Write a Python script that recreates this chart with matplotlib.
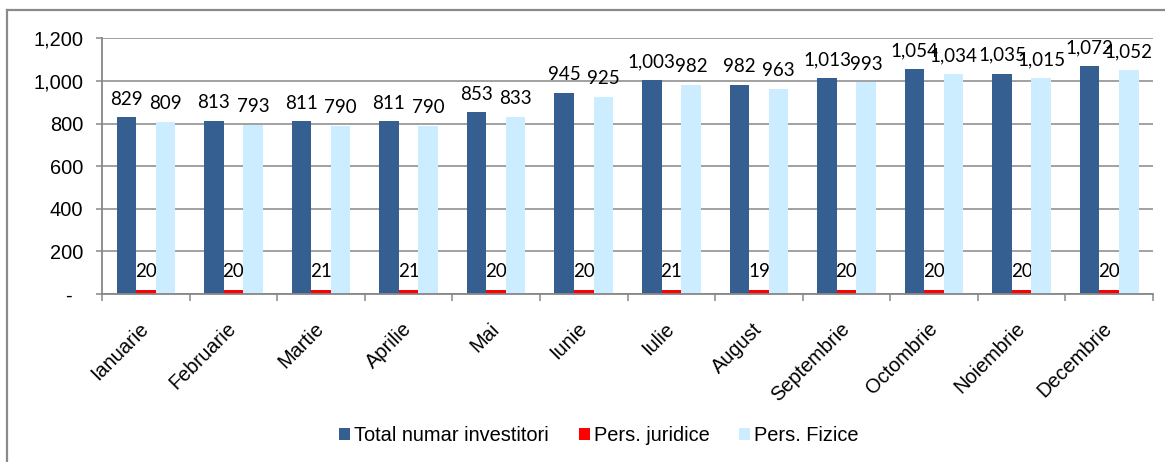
# monthly number of investors, grouped bars
import matplotlib
matplotlib.use('Agg')
from matplotlib import pyplot as plt
from matplotlib.lines import Line2D
from matplotlib.ticker import FuncFormatter, FixedLocator
from matplotlib.transforms import ScaledTranslation
import numpy as np


# data
months = ['Ianuarie', 'Februarie', 'Martie', 'Aprilie', 'Mai', 'Iunie',
          'Iulie', 'August', 'Septembrie', 'Octombrie', 'Noiembrie', 'Decembrie']
total = [829, 813, 811, 811, 853, 945, 1003, 982, 1013, 1054, 1035, 1072]
juridice = [20, 20, 21, 21, 20, 20, 21, 19, 20, 20, 20, 20]
fizice = [809, 793, 790, 790, 833, 925, 982, 963, 993, 1034, 1015, 1052]

series_names = ['Total numar investitori', 'Pers. juridice', 'Pers. Fizice']
colors = ['#365F91', '#FF0000', '#CCECFF']

grid_col = '#878787'
label_font = 'Lato'
axis_font = 'Liberation Sans'
axis_size = 14.4


# y tick labels: accounting style, zero as dash
def fmt_y(v, pos):
    if v == 0:
        return '-  '
    return '{:,.0f}'.format(v)


fig = plt.figure(figsize=(11.65, 4.62), dpi=100)
ax = fig.add_axes([0.0876, 0.3636, 0.9021, 0.5534])

x = np.arange(len(months))
w = 0.223
for i, vals in enumerate([total, juridice, fizice]):
    bars = ax.bar(x + (i - 1) * w, vals, width=w, color=colors[i],
                  label=series_names[i], zorder=3)
    ax.bar_label(bars, labels=['{:,}'.format(v) for v in vals], padding=7,
                 fontsize=13.5, family=label_font, color='black')

ax.set_xlim(-0.5, len(months) - 0.5)
ax.set_ylim(0, 1200)
ax.set_yticks(np.arange(0, 1201, 200))
ax.yaxis.set_major_formatter(FuncFormatter(fmt_y))
ax.grid(axis='y', color=grid_col, linewidth=1.1, zorder=0)

ax.set_xticks(x)
ax.set_xticklabels(months, rotation=45, ha='right', va='center',
                   rotation_mode='anchor', family=axis_font, fontsize=axis_size)
shift = ScaledTranslation(-4 / 100, 0, fig.dpi_scale_trans)
for lab in ax.get_xticklabels():
    lab.set_transform(lab.get_transform() + shift)
ax.xaxis.set_minor_locator(FixedLocator(np.arange(-0.5, len(months), 1)))
ax.tick_params(axis='x', which='major', length=0, pad=23)
ax.tick_params(axis='x', which='minor', length=5, width=1.1, color=grid_col)
ax.tick_params(axis='y', length=4.5, width=1.1, color=grid_col, pad=9,
               labelsize=axis_size)
for lab in ax.get_yticklabels():
    lab.set_family(axis_font)

for side in ['top', 'right']:
    ax.spines[side].set_visible(False)
for side in ['left', 'bottom']:
    ax.spines[side].set_color(grid_col)
    ax.spines[side].set_linewidth(1.3)
    ax.spines[side].set_zorder(4)

# legend below the chart
leg = fig.legend(loc='center', bbox_to_anchor=(0.514, 0.058), ncol=3,
                 frameon=False, handlelength=0.55, handleheight=0.55,
                 handletextpad=0.2, columnspacing=1.5,
                 prop={'family': axis_font, 'size': axis_size})

# chart border (only left and top visible in the crop)
fig.add_artist(Line2D([7 / 1165, 7 / 1165], [0, 1 - 10 / 462],
                      transform=fig.transFigure, color='#8a8a8a', linewidth=1.6))
fig.add_artist(Line2D([7 / 1165, 1], [1 - 10 / 462, 1 - 10 / 462],
                      transform=fig.transFigure, color='#8a8a8a', linewidth=1.6))

fig.savefig('out.png', dpi=100)
